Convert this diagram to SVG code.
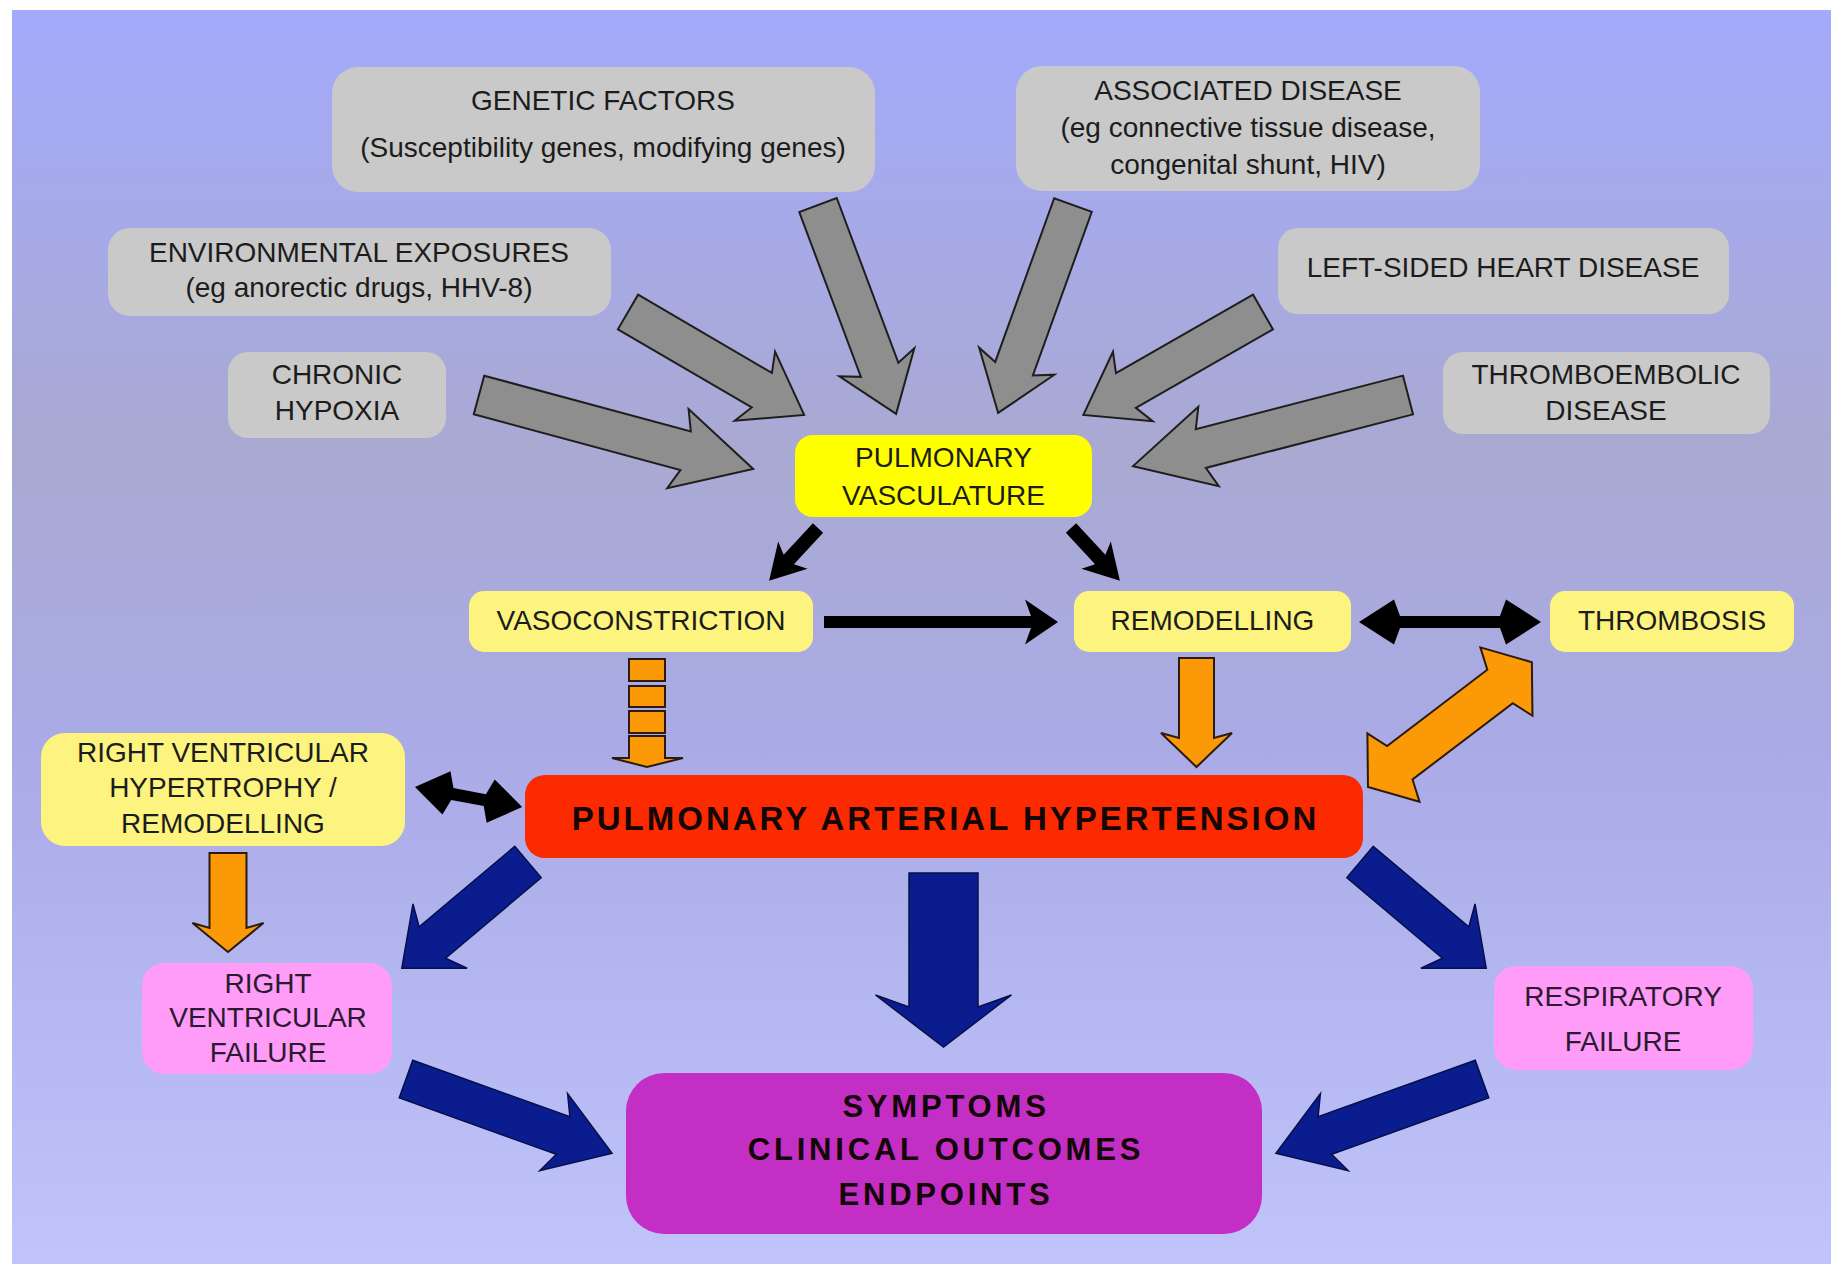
<svg xmlns="http://www.w3.org/2000/svg" width="1831" height="1264" viewBox="0 0 1831 1264">
<defs>
<linearGradient id="bg" x1="0" y1="0" x2="0" y2="1">
<stop offset="0" stop-color="#a4aafc"/>
<stop offset="0.35" stop-color="#a9a9d2"/>
<stop offset="0.6" stop-color="#aaabe7"/>
<stop offset="1" stop-color="#c0c4fa"/>
</linearGradient>
</defs>
<style>
text{font-family:"Liberation Sans",Arial,sans-serif;font-size:28px;fill:#1c1c1c;text-anchor:middle}
.grey{fill:#c9c9c9}
.pv{fill:#ffff00}
.ly{fill:#fcf47e}
.pah{fill:#fb2a00}
.pink{fill:#ff9cf7}
.sym{fill:#c32ec4}
.b{font-weight:bold;fill:#120606}
.pk{fill:#2a1a30}
.ga{fill:#8e8e8e;stroke:#1e1e1e;stroke-width:2;stroke-linejoin:miter}
.na{fill:#0b1c8e;stroke:#05104a;stroke-width:1.5}
.oa{fill:#fb9a06;stroke:#2a1a10;stroke-width:2}
.ka{fill:#000000}
</style>
<rect x="0" y="0" width="1831" height="1264" fill="#ffffff"/>
<rect x="12" y="10" width="1819" height="1254" fill="url(#bg)"/>

<g id="connectors">
<!-- grey input arrows -->
<polygon class="ga" points="0,-20 176,-20 168,-40 223,0 168,40 176,20 0,20" transform="translate(818,205) rotate(69.5)"/>
<polygon class="ga" points="0,-20 174,-20 166,-40 221,0 166,40 174,20 0,20" transform="translate(1073,205) rotate(109.8)"/>
<polygon class="ga" points="0,-20 155,-20 147,-40 204,0 147,40 155,20 0,20" transform="translate(628,312) rotate(30.3)"/>
<polygon class="ga" points="0,-20 158,-20 150,-40 207,0 150,40 158,20 0,20" transform="translate(1263,312) rotate(150.2)"/>
<polygon class="ga" points="0,-20 214,-20 206,-41 284,0 206,41 214,20 0,20" transform="translate(479,395) rotate(15.1)"/>
<polygon class="ga" points="0,-20 214,-20 206,-41 284,0 206,41 214,20 0,20" transform="translate(1408,395) rotate(165.5)"/>
<!-- black arrows -->
<polygon class="ka" points="0,-7 43,-7 37,-20 72,0 37,20 43,7 0,7" transform="translate(818,528) rotate(132.8)"/>
<polygon class="ka" points="0,-7 43,-7 37,-20 72,0 37,20 43,7 0,7" transform="translate(1071,528) rotate(47.2)"/>
<polygon class="ka" points="0,-6 207,-6 201,-22.5 234,0 201,22.5 207,6 0,6" transform="translate(824,622)"/>
<polygon class="ka" points="0,0 35,-22.5 41,-6 141,-6 147,-22.5 182,0 147,22.5 141,6 41,6 35,22.5" transform="translate(1359,622)"/>
<polygon class="ka" points="0,0 32,-22 38,-6 71,-6 77,-22 109,0 77,22 71,6 38,6 32,22" transform="translate(415,787) rotate(10.6)"/>
<!-- orange arrows -->
<rect class="oa" x="629" y="659" width="36" height="22"/>
<rect class="oa" x="629" y="686" width="36" height="21"/>
<rect class="oa" x="629" y="711" width="36" height="22"/>
<polygon class="oa" points="629,736 665,736 665,758 683,758 647,767 612,758 629,758"/>
<polygon class="oa" points="0,-17.5 80,-17.5 75,-35.5 109,0 75,35.5 80,17.5 0,17.5" transform="translate(1196.5,658) rotate(90)"/>
<polygon class="oa" points="0,-18.5 75,-18.5 70,-35.5 99,0 70,35.5 75,18.5 0,18.5" transform="translate(228,853) rotate(90)"/>
<polygon class="oa" points="0,0 32,-43 40,-21 166,-21 174,-43 206,0 174,43 166,21 40,21 32,43" transform="translate(1368,787) rotate(-37.3)"/>
<!-- navy arrows -->
<polygon class="na" points="0,-20.5 125,-20.5 115,-42 165,0 115,42 125,20.5 0,20.5" transform="translate(528,862) rotate(139.9)"/>
<polygon class="na" points="0,-20.5 125,-20.5 115,-42 165,0 115,42 125,20.5 0,20.5" transform="translate(1360,862) rotate(40.1)"/>
<polygon class="na" points="0,-34.5 134,-34.5 122,-68 174,0 122,68 134,34.5 0,34.5" transform="translate(943.5,873) rotate(90)"/>
<polygon class="na" points="0,-20 167,-20 157,-41 219,0 157,41 167,20 0,20" transform="translate(406,1079) rotate(19.8)"/>
<polygon class="na" points="0,-20 167,-20 157,-41 219,0 157,41 167,20 0,20" transform="translate(1482,1079) rotate(160.2)"/>
</g>

<g id="genetic-factors">
<rect class="grey" x="332" y="67" width="543" height="125" rx="26"/>
<text x="603" y="110">GENETIC FACTORS</text>
<text x="603" y="157">(Susceptibility genes, modifying genes)</text>
</g>
<g id="environmental-exposures">
<rect class="grey" x="108" y="228" width="503" height="88" rx="22"/>
<text x="359" y="262">ENVIRONMENTAL EXPOSURES</text>
<text x="359" y="297">(eg anorectic drugs, HHV-8)</text>
</g>
<g id="chronic-hypoxia">
<rect class="grey" x="228" y="352" width="218" height="86" rx="20"/>
<text x="337" y="384">CHRONIC</text>
<text x="337" y="420">HYPOXIA</text>
</g>
<g id="associated-disease">
<rect class="grey" x="1016" y="66" width="464" height="125" rx="26"/>
<text x="1248" y="100">ASSOCIATED DISEASE</text>
<text x="1248" y="137">(eg connective tissue disease,</text>
<text x="1248" y="174">congenital shunt, HIV)</text>
</g>
<g id="left-sided-heart-disease">
<rect class="grey" x="1278" y="228" width="451" height="86" rx="20"/>
<text x="1503" y="277">LEFT-SIDED HEART DISEASE</text>
</g>
<g id="thromboembolic-disease">
<rect class="grey" x="1443" y="352" width="327" height="82" rx="20"/>
<text x="1606" y="384">THROMBOEMBOLIC</text>
<text x="1606" y="420">DISEASE</text>
</g>
<g id="pulmonary-vasculature">
<rect class="pv" x="795" y="435" width="297" height="82" rx="18"/>
<text x="943.5" y="467">PULMONARY</text>
<text x="943.5" y="505">VASCULATURE</text>
</g>
<g id="vasoconstriction">
<rect class="ly" x="469" y="591" width="344" height="61" rx="15"/>
<text x="641" y="630">VASOCONSTRICTION</text>
</g>
<g id="remodelling">
<rect class="ly" x="1074" y="591" width="277" height="61" rx="15"/>
<text x="1212.5" y="630">REMODELLING</text>
</g>
<g id="thrombosis">
<rect class="ly" x="1550" y="591" width="244" height="61" rx="15"/>
<text x="1672" y="630">THROMBOSIS</text>
</g>
<g id="rv-hypertrophy">
<rect class="ly" x="41" y="733" width="364" height="113" rx="24"/>
<text x="223" y="762">RIGHT VENTRICULAR</text>
<text x="223" y="797">HYPERTROPHY /</text>
<text x="223" y="833">REMODELLING</text>
</g>
<g id="pah">
<rect class="pah" x="525" y="775" width="838" height="83" rx="20"/>
<text class="b" x="945.5" y="830" style="font-size:33px;letter-spacing:3px">PULMONARY ARTERIAL HYPERTENSION</text>
</g>
<g id="rv-failure">
<rect class="pink" x="142" y="963" width="250" height="111" rx="22"/>
<text class="pk" x="268" y="993">RIGHT</text>
<text class="pk" x="268" y="1027">VENTRICULAR</text>
<text class="pk" x="268" y="1062">FAILURE</text>
</g>
<g id="respiratory-failure">
<rect class="pink" x="1494" y="966" width="259" height="104" rx="22"/>
<text class="pk" x="1623" y="1006">RESPIRATORY</text>
<text class="pk" x="1623" y="1051">FAILURE</text>
</g>
<g id="symptoms">
<rect class="sym" x="626" y="1073" width="636" height="161" rx="38"/>
<text class="b" x="946" y="1117" style="font-size:31px;letter-spacing:3.8px">SYMPTOMS</text>
<text class="b" x="946" y="1160" style="font-size:31px;letter-spacing:3.8px">CLINICAL OUTCOMES</text>
<text class="b" x="946" y="1205" style="font-size:31px;letter-spacing:3.8px">ENDPOINTS</text>
</g>
</svg>
